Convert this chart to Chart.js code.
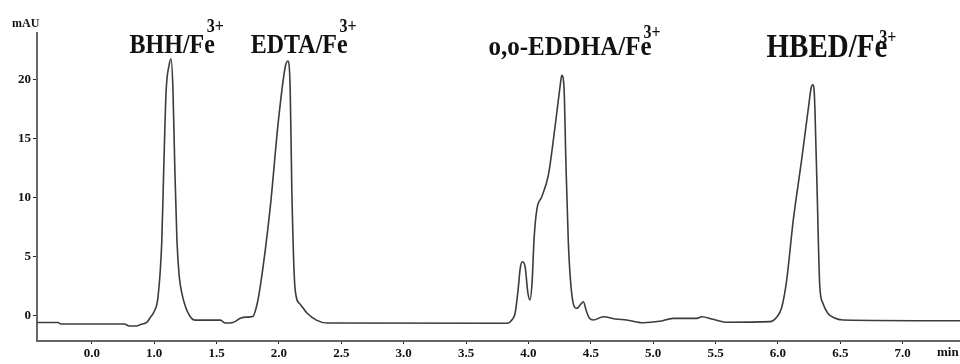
<!DOCTYPE html>
<html>
<head>
<meta charset="utf-8">
<script src="https://cdn.jsdelivr.net/npm/chart.js@4.4.1/dist/chart.umd.min.js"></script>
<style>
  html, body { margin: 0; padding: 0; background: #fff; }
  #wrap { width: 960px; height: 364px; }
</style>
</head>
<body>
<div id="wrap"><canvas id="chrom"></canvas></div>
<script>
// retention time (min) and absorbance (mAU)
const times = [
  0.06, 0.23, 0.25, 0.76, 0.80, 0.86, 0.89, 0.94, 0.97, 1.00,
  1.03, 1.06, 1.075, 1.095, 1.12, 1.134, 1.15, 1.165, 1.182, 1.20,
  1.222, 1.25, 1.272, 1.31, 1.33, 1.53, 1.57, 1.63, 1.69, 1.74,
  1.79, 1.82, 1.85, 1.93, 1.994, 2.05, 2.071, 2.09, 2.103, 2.13,
  2.17, 2.224, 2.30, 2.384, 3.83, 3.87, 3.893, 3.915, 3.935, 3.95,
  3.973, 3.995, 4.013, 4.03, 4.045, 4.067, 4.107, 4.16, 4.213, 4.253,
  4.267, 4.285, 4.30, 4.32, 4.347, 4.387, 4.42, 4.44, 4.465, 4.49,
  4.52, 4.60, 4.70, 4.787, 4.92, 5.05, 5.16, 5.35, 5.39, 5.48,
  5.59, 5.936, 5.99, 6.03, 6.07, 6.123, 6.19, 6.243, 6.268, 6.28,
  6.29, 6.297, 6.315, 6.336, 6.36, 6.40, 6.45, 6.52, 7.46
];
const mAU = [
  -0.55, -0.55, -0.68, -0.68, -0.85, -0.85, -0.72, -0.55, -0.1, 0.4,
  1.6, 6.2, 12.0, 19.0, 21.3, 21.8, 19.2, 12.5, 6.4, 3.4,
  1.9, 0.8, 0.25, -0.3, -0.35, -0.35, -0.6, -0.55, -0.2, -0.1,
  -0.05, 0.8, 2.5, 9.2, 16.4, 21.1, 21.6, 19.2, 10.7, 2.2,
  1.0, 0.25, -0.35, -0.6, -0.62, -0.3, 0.23, 2.0, 4.1, 4.6,
  4.2, 2.0, 1.36, 3.0, 6.5, 9.0, 10.1, 11.95, 16.0, 19.4,
  20.4, 19.4, 13.2, 6.2, 1.9, 0.65, 1.0, 1.2, 0.4, -0.2,
  -0.34, -0.06, -0.25, -0.34, -0.57, -0.45, -0.2, -0.2, -0.06, -0.28,
  -0.53, -0.48, -0.1, 0.7, 3.0, 8.1, 13.2, 17.5, 19.4, 19.6,
  19.2, 17.5, 10.4, 2.5, 1.1, 0.23, -0.15, -0.34, -0.4
];

// axis ticks (the first x label reads 0.0 in the original)
const xTickValues = [0.5, 1.0, 1.5, 2.0, 2.5, 3.0, 3.5, 4.0, 4.5, 5.0, 5.5, 6.0, 6.5, 7.0];
const xTickLabels = ['0.0', '1.0', '1.5', '2.0', '2.5', '3.0', '3.5', '4.0', '4.5', '5.0', '5.5', '6.0', '6.5', '7.0'];
const yTickValues = [0, 5, 10, 15, 20];

// peak names, placed above each peak
const peakNames = ['BHH/Fe', 'EDTA/Fe', 'o,o-EDDHA/Fe', 'HBED/Fe'];
const peakLabelTimes = [1.144, 2.162, 4.333, 6.393];
const peakLabelLevels = [22.3, 22.3, 22.1, 21.95];

const SERIF = '"Liberation Serif", "Times New Roman", serif';
const labelSizes = [24, 24, 25, 29];
const STRETCH = 1.13;

const peakLabelsPlugin = {
    id: 'peakLabels',
    afterDraw(chart) {
        const ctx = chart.ctx;
        const xs = chart.scales.x;
        const ys = chart.scales.y;
        ctx.save();
        ctx.fillStyle = '#111';
        ctx.textBaseline = 'alphabetic';
        peakNames.forEach((name, i) => {
            ctx.font = 'bold ' + labelSizes[i] + 'px ' + SERIF;
            const w = ctx.measureText(name).width;
            const cx = xs.getPixelForValue(peakLabelTimes[i]);
            const by = ys.getPixelForValue(peakLabelLevels[i]);
            const left = cx - w / 2;
            ctx.save();
            ctx.translate(left, by);
            ctx.scale(1, STRETCH);
            ctx.fillText(name, 0, 0);
            ctx.restore();
            // superscript charge
            ctx.save();
            ctx.font = 'bold 16px ' + SERIF;
            ctx.translate(left + w - 8, by - (i < 2 ? 21 : (i === 2 ? 17 : 14)));
            ctx.scale(1, STRETCH);
            ctx.fillText('3+', 0, 0);
            ctx.restore();
        });
        // axis units
        ctx.font = 'bold 12px ' + SERIF;
        ctx.textAlign = 'left';
        ctx.fillText('mAU', 12, 27);
        ctx.font = 'bold 13px ' + SERIF;
        ctx.fillText('min', 937, 356);
        ctx.restore();
    }
};

const tickFont = { family: SERIF, size: 13, weight: 'bold' };

new Chart(document.getElementById('chrom'), {
    type: 'line',
    data: {
        datasets: [{
            data: times.map((t, i) => ({ x: t, y: mAU[i] })),
            borderColor: '#3c3c3c',
            borderWidth: 1.6,
            pointRadius: 0,
            fill: false,
            cubicInterpolationMode: 'monotone'
        }]
    },
    options: {
        responsive: true,
        maintainAspectRatio: false,
        animation: false,
        layout: { padding: { top: 33, right: 0, left: 0, bottom: 0 } },
        plugins: {
            legend: { display: false },
            tooltip: { enabled: false }
        },
        scales: {
            x: {
                type: 'linear',
                min: 0.06,
                max: 7.46,
                afterBuildTicks: (scale) => { scale.ticks = xTickValues.map(v => ({ value: v })); },
                afterFit: (scale) => { scale.height = 23; },
                border: { color: '#666', width: 2 },
                grid: { drawOnChartArea: false, tickLength: 3, color: '#222' },
                ticks: {
                    font: tickFont,
                    color: '#111',
                    padding: 2,
                    maxRotation: 0,
                    autoSkip: false,
                    callback: (value) => {
                        const i = xTickValues.findIndex(v => Math.abs(v - value) < 1e-6);
                        return i >= 0 ? xTickLabels[i] : '';
                    }
                }
            },
            y: {
                min: -2.12,
                max: 23.98,
                afterBuildTicks: (scale) => { scale.ticks = yTickValues.map(v => ({ value: v })); },
                afterFit: (scale) => { scale.width = 37; },
                border: { color: '#666', width: 2 },
                grid: { drawOnChartArea: false, tickLength: 4, color: '#222' },
                ticks: {
                    font: tickFont,
                    color: '#111',
                    padding: 2
                }
            }
        }
    },
    plugins: [peakLabelsPlugin]
});
</script>
</body>
</html>
